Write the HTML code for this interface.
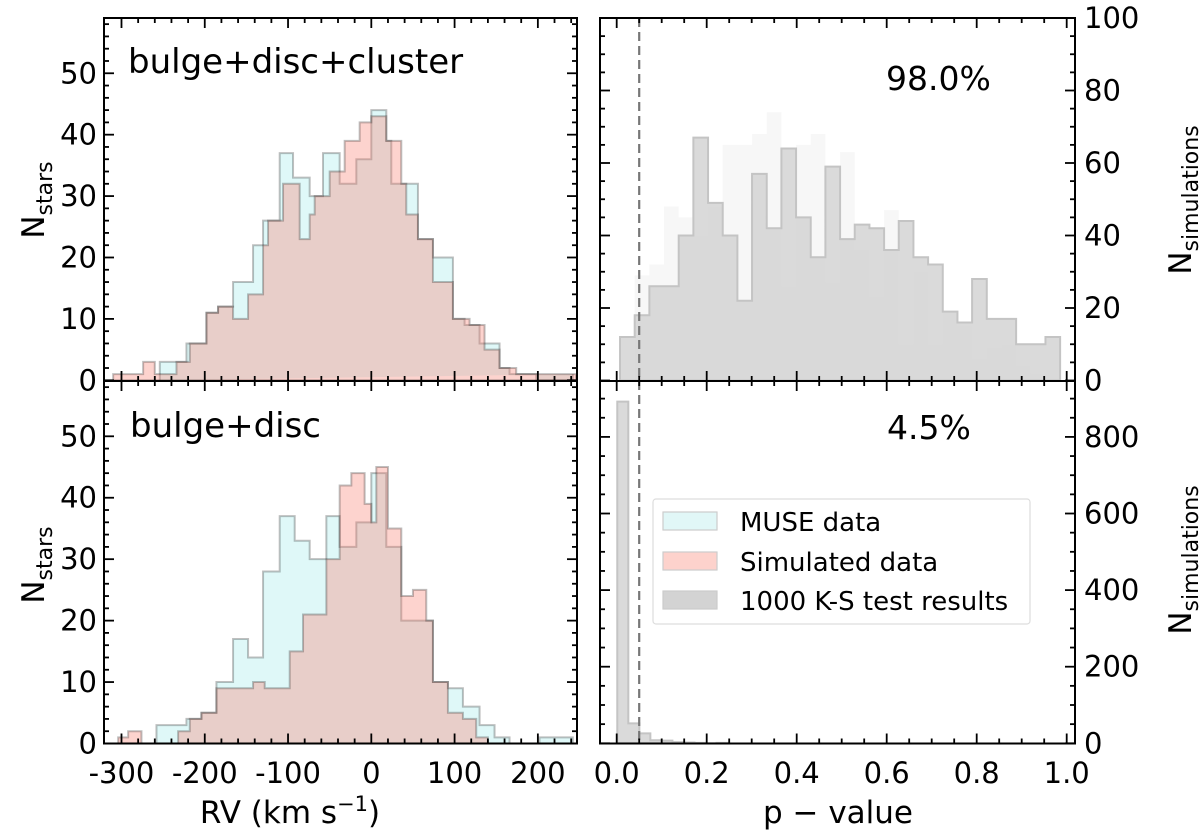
<!DOCTYPE html>
<html><head><meta charset="utf-8">
<style>
html,body{margin:0;padding:0;background:#fff;}
svg{display:block;font-family:"DejaVu Sans","Liberation Sans",sans-serif;}
</style></head>
<body>
<svg id="fig" width="1200" height="834" viewBox="0 0 1200 834"></svg>
<script>
// ---------- data ----------
const topRedEdges=[-310,-274,-260,-234,-218,-198,-184,-166,-148,-130,-124,-106,-86,-74,-68,-50,-32,-14,0,18,36,42,56,74,98,118,136,154,174,246];
const topRedCounts=[1,3,1,3,6,11,12,10,14,22,26,32,23,27,30,34,39,42,43,39,32,27,23,16,10,9,5,2,1];
const topCyanEdges=[-254,-222,-198,-184,-166,-142,-130,-110,-94,-74,-58,-38,-18,0,18,24,36,56,74,98,112,130,154,166,198,242];
const topCyanCounts=[3,6,11,12,16,22,26,37,33,30,37,32,36,44,39,32,32,23,20,10,9,6,2,1,0,1];
const botRedEdges=[-304,-292,-276,-232,-218,-204,-186,-142,-128,-98,-82,-54,-38,-24,-8,0,6,20,36,50,66,74,80,92,110,126,140];
const botRedCounts=[1,2,0,2,4,5,9,10,9,15,21,30,42,44,39,36,45,35,24,25,20,10,10,5,4,1];
const botCyanEdges=[-258,-222,-204,-186,-166,-148,-130,-110,-92,-74,-54,-38,-18,0,18,36,74,92,110,130,148,166,202,242];
const botCyanCounts=[3,4,5,10,17,14,28,37,33,30,37,32,36,44,32,20,10,9,6,3,1,0,1];
const pTopStart=0.0074, pTopWidth=0.0326;
const pTopCounts=[12,18,26,26,40,67,49,40,22,57,42,64,45,34,59,39,43,42,36,44,34,32,19,16,28,17,17,10,10,12];
const pTopGhost=[0,29,32,48,45,40,48,65,65,68,74,26,65,68,27,63,36,23,47,10,30,10,19,15,6,9,10,4,2,3];
const pBotStart=0.0013, pBotWidth=0.0245;
const pBotCounts=[892,52,26,8,7,3,2,1,0,1];
const rvTicks=[-300,-200,-100,0,100,200];
const starTicks=[0,10,20,30,40,50];
const pTicks=[0,0.2,0.4,0.6,0.8,1.0];
const simTopTicks=[0,20,40,60,80,100];
const simBotTicks=[0,200,400,600,800];
const ksThreshold=0.05;

// ---------- helpers ----------
const NS="http://www.w3.org/2000/svg";
const svg=document.getElementById('fig');
function mk(tag,attrs,parent){const e=document.createElementNS(NS,tag);for(const k in attrs)e.setAttribute(k,attrs[k]);(parent||svg).appendChild(e);return e;}
function lin(d0,d1,r0,r1){return v=>r0+(v-d0)*(r1-r0)/(d1-d0);}

const L={x0:104,x1:577}, R={x0:600,x1:1075};
const T={y0:18,y1:381}, B={y0:381,y1:743.5};
const xRV=lin(-321,247,L.x0,L.x1);
const xP=lin(0,1,616.7,1066.7);
const yTopS=lin(0,59,380.3,T.y0);
const yBotS=lin(0,59,743.5,B.y0);
const yTopP=lin(0,100,380.5,18);
const yBotP=lin(0,946,743.3,381);

function stepPath(edges,counts,xs,ys){
  let d='M'+xs(edges[0])+','+ys(0);
  for(let i=0;i<counts.length;i++){d+=' L'+xs(edges[i])+','+ys(counts[i])+' L'+xs(edges[i+1])+','+ys(counts[i]);}
  d+=' L'+xs(edges[edges.length-1])+','+ys(0)+' Z';return d;
}
function uniformEdges(start,w,n){const e=[];for(let i=0;i<=n;i++)e.push(start+i*w);return e;}

function clip(id,x0,y0,x1,y1){const cp=mk('clipPath',{id:id});mk('rect',{x:x0,y:y0,width:x1-x0,height:y1-y0},cp);}
clip('cTL',L.x0,T.y0,L.x1,T.y1);clip('cBL',L.x0,B.y0,L.x1,B.y1);
clip('cTR',R.x0,T.y0,R.x1,T.y1);clip('cBR',R.x0,B.y0,R.x1,B.y1);

// ---------- left histograms ----------
function rvHist(cid,ys,cyE,cyC,rdE,rdC,pfx){
  const g=mk('g',{'clip-path':'url(#'+cid+')'});
  
  
  const c=mk('path',{d:stepPath(cyE,cyC,xRV,ys),fill:'rgb(175,238,238)','fill-opacity':0.4,stroke:'rgba(0,0,0,0.25)','stroke-width':2},g);
  
  
  const r=mk('path',{d:stepPath(rdE,rdC,xRV,ys),fill:'rgb(250,128,114)','fill-opacity':0.35,stroke:'rgba(0,0,0,0.25)','stroke-width':2},g);
  
  
}
rvHist('cTL',yTopS,topCyanEdges,topCyanCounts,topRedEdges,topRedCounts,'top');
rvHist('cBL',yBotS,botCyanEdges,botCyanCounts,botRedEdges,botRedCounts,'bottom');

// ---------- right histograms ----------
(function(){
  const g=mk('g',{'clip-path':'url(#cTR)'});
  
  
  const eg=uniformEdges(pTopStart,pTopWidth,pTopGhost.length);
  const gh=mk('path',{d:stepPath(eg,pTopGhost,xP,yTopP),fill:'#f7f7f7',stroke:'none'},g);
  
  
  const e=uniformEdges(pTopStart,pTopWidth,pTopCounts.length);
  const h=mk('path',{d:stepPath(e,pTopCounts,xP,yTopP),fill:'#d3d3d3','fill-opacity':0.85,stroke:'#c4c4c4','stroke-width':2},g);
  
  
  const g2=mk('g',{'clip-path':'url(#cBR)'});
  const e2=uniformEdges(pBotStart,pBotWidth,pBotCounts.length);
  const h2=mk('path',{d:stepPath(e2,pBotCounts,xP,yBotP),fill:'#d3d3d3','fill-opacity':0.85,stroke:'#c4c4c4','stroke-width':2},g2);
  
  
  [[T.y0,T.y1,'top'],[B.y0,B.y1,'bottom']].forEach(([a,b,n])=>{
    const l=mk('line',{x1:xP(ksThreshold),x2:xP(ksThreshold),y1:a,y2:b,stroke:'#777','stroke-width':2.2,'stroke-dasharray':'9,5'});
    
    
  });
})();

// ---------- axes frames & ticks ----------
function frame(x0,y0,x1,y1,name){
  const r=mk('rect',{x:x0,y:y0,width:x1-x0,height:y1-y0,fill:'none',stroke:'#000','stroke-width':2});
  
  
}
function xticks(xs,min,max,step,majorStep,y0,y1){
  for(let v=min;v<=max+1e-9;v+=step){
    const x=xs(v);const maj=Math.abs(v/majorStep-Math.round(v/majorStep))<1e-6;const len=maj?10:5;
    mk('line',{x1:x,x2:x,y1:y1,y2:y1-len,stroke:'#000','stroke-width':1.8});
    mk('line',{x1:x,x2:x,y1:y0,y2:y0+len,stroke:'#000','stroke-width':1.8});
  }
}
function yticks(ys,min,max,step,majorStep,x0,x1){
  for(let v=min;v<=max+1e-9;v+=step){
    const y=ys(v);const maj=Math.abs(v/majorStep-Math.round(v/majorStep))<1e-6;const len=maj?10:5;
    mk('line',{x1:x0,x2:x0+len,y1:y,y2:y,stroke:'#000','stroke-width':1.8});
    mk('line',{x1:x1,x2:x1-len,y1:y,y2:y,stroke:'#000','stroke-width':1.8});
  }
}
xticks(xRV,-300,240,20,100,T.y0,T.y1);xticks(xRV,-300,240,20,100,B.y0,B.y1);
yticks(yTopS,0,58,2,10,L.x0,L.x1);yticks(yBotS,0,58,2,10,L.x0,L.x1);
xticks(xP,0,1.0,0.05,0.2,T.y0,T.y1);xticks(xP,0,1.0,0.05,0.2,B.y0,B.y1);
yticks(yTopP,0,100,5,20,R.x0,R.x1);yticks(yBotP,0,900,50,200,R.x0,R.x1);
frame(L.x0,T.y0,L.x1,T.y1,'top-left-axes');frame(L.x0,B.y0,L.x1,B.y1,'bottom-left-axes');
frame(R.x0,T.y0,R.x1,T.y1,'top-right-axes');frame(R.x0,B.y0,R.x1,B.y1,'bottom-right-axes');

// ---------- tick labels ----------
function txt(s,x,y,attrs,name){
  const t=mk('text',Object.assign({x:x,y:y,'font-size':29,fill:'#000'},attrs||{}));t.textContent=s;
  
  
  return t;
}
rvTicks.forEach(v=>txt(String(v),xRV(v),783,{'text-anchor':'middle'},'rv-tick-label'));
pTicks.forEach(v=>txt(v.toFixed(1),xP(v),783,{'text-anchor':'middle'},'p-tick-label'));
starTicks.forEach(v=>{txt(String(v),97,yTopS(v)+10,{'text-anchor':'end'},'top-nstars-tick-label');txt(String(v),97,yBotS(v)+10,{'text-anchor':'end'},'bottom-nstars-tick-label');});
simTopTicks.forEach(v=>txt(String(v),1084,yTopP(v)+10,{},'top-nsim-tick-label'));
simBotTicks.forEach(v=>txt(String(v),1084,yBotP(v)+10,{},'bottom-nsim-tick-label'));

// ---------- axis titles & annotations ----------
const xl=txt('RV (km s',290,823,{'text-anchor':'middle','font-size':31},'rv-axis-title');
const sup=mk('tspan',{dy:-12,'font-size':21},xl);sup.textContent='\u22121';
const cl=mk('tspan',{dy:12},xl);cl.textContent=')';
txt('p \u2212 value',838,823,{'text-anchor':'middle','font-size':31},'p-axis-title');
function ylabel(x,y,name){
  const t=mk('text',{x:0,y:0,'font-size':31,transform:'translate('+x+','+y+') rotate(-90)','text-anchor':'middle',fill:'#000'});
  
  
  return t;
}
[[44,200,'top-nstars-title'],[44,565,'bottom-nstars-title']].forEach(([x,y,n])=>{
  const t=ylabel(x,y,n);t.appendChild(document.createTextNode('N'));
  const s=mk('tspan',{dy:8,'font-size':22},t);s.textContent='stars';
});
[[1191,200,'top-nsim-title'],[1191,560,'bottom-nsim-title']].forEach(([x,y,n])=>{
  const t=ylabel(x,y,n);t.appendChild(document.createTextNode('N'));
  const s=mk('tspan',{dy:7,'font-size':22},t);s.textContent='simulations';
});
txt('bulge+disc+cluster',128,73,{'font-size':34},'top-panel-title');
txt('bulge+disc',130,437,{'font-size':34},'bottom-panel-title');
txt('98.0%',886,90,{'font-size':33},'top-ks-percentage');
txt('4.5%',887,439,{'font-size':33},'bottom-ks-percentage');

// ---------- legend ----------
const lg=mk('g',{});


mk('rect',{x:653,y:499,width:377,height:125,rx:3,fill:'rgba(255,255,255,0.85)',stroke:'#ddd','stroke-width':1.2},lg);
[['MUSE data','rgb(225,247,247)',521,'legend-muse'],['Simulated data','rgb(253,210,204)',561,'legend-simulated'],['1000 K-S test results','#d3d3d3',600,'legend-ks']].forEach(([s,c,y,n])=>{
  const r=mk('rect',{x:663,y:y-9,width:54,height:18,fill:c,stroke:'#ccc','stroke-width':1.2},lg);
  
  
  const t=mk('text',{x:740,y:y+10,'font-size':26,fill:'#000'},lg);t.textContent=s;
  
  
});
</script>
</body></html>
